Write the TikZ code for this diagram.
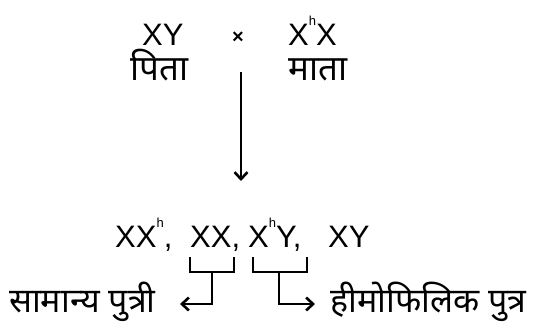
\documentclass[tikz,border=0pt]{standalone}
\usepackage{fontspec}
\setmainfont{Liberation Sans}
\newfontfamily\deva[Script=Devanagari]{Noto Sans}
\usetikzlibrary{arrows.meta}
\newcommand{\suph}{\raisebox{0.62em}{\fontsize{13}{13}\selectfont h}}
\begin{document}
\begin{tikzpicture}[x=1pt,y=-1pt,
  gen/.style={inner sep=0pt,font=\fontsize{31}{31}\selectfont,anchor=base west},
  hin/.style={inner sep=0pt,font=\deva\fontsize{35}{35}\selectfont,anchor=base west},
  conn/.style={line width=2.2pt,line cap=butt},
  tip/.style={-{Straight Barb[length=7pt,width=13pt,line width=2.6pt]}}]
\useasboundingbox (0,0) rectangle (534,322);
% top row
\node[gen] (fg) at (142,45) {XY};
\node[inner sep=0pt,font=\bfseries\fontsize{20}{20}\selectfont] (cross) at (238,38) {×};
\node[gen] (mg) at (288,45) {X\suph X};
\node[hin] (father) at (130,80) {पिता};
\node[hin] (mother) at (288,80) {माता};
% main arrow
\coordinate (a0) at (241,72);
\coordinate (a1) at (241,181);
\draw[conn,line width=2.4pt,-{Straight Barb[length=7pt,width=13pt,line width=2.6pt]}] (a0) -- (a1);
% offspring
\node[gen] (o1) at (115,247) {XX\suph,};
\node[gen] (o2) at (190,247) {XX,};
\node[gen] (o3) at (248,247) {X\suph Y,};
\node[gen] (o4) at (328,247) {XY};
% labels
\node[hin,font=\deva\fontsize{34}{34}\selectfont] (girl) at (9,312) {सामान्य पुत्री};
\node[hin,font=\deva\fontsize{34}{34}\selectfont] (boy) at (330,312) {हीमोफिलिक पुत्र};
% bracket 1
\coordinate (b1l) at (190,257);
\coordinate (b1r) at (234,257);
\coordinate (b1m) at (212,272);
\coordinate (b1e) at (212,304);
\coordinate (b1t) at (180,304);
\draw[conn] (b1l) |- (b1m) -| (b1r);
\draw[conn,tip] (b1m) -- (b1e) -- (b1t);
% bracket 2
\coordinate (b2l) at (253,257);
\coordinate (b2r) at (307,257);
\coordinate (b2m) at (279,272);
\coordinate (b2e) at (279,304);
\coordinate (b2t) at (315,304);
\draw[conn] (b2l) |- (b2m) -| (b2r);
\draw[conn,tip] (b2m) -- (b2e) -- (b2t);
\end{tikzpicture}
\end{document}
